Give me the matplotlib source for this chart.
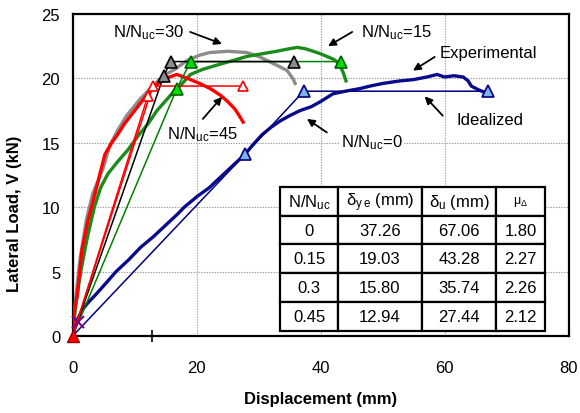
import matplotlib
matplotlib.use("Agg")
import matplotlib.pyplot as plt

plt.rcParams['font.family'] = ['Liberation Sans', 'DejaVu Sans']
plt.rcParams['mathtext.default'] = 'regular'

# ---- experimental curves (displacement mm, load kN) ----
exp0_x = [0, 0.4, 0.8, 1.5, 2.5, 3.5, 5, 7, 9, 11, 13, 15, 17, 18, 20, 22, 24, 26, 27.8, 29, 30.5, 32,
          33.5, 35, 36.7, 38.5, 40, 42, 44, 46.3, 48, 50, 52.8, 55, 57.1, 58.8, 60, 61.5, 63, 63.8, 64.3, 65.5, 67]
exp0_y = [0, 0.8, 1.3, 2.0, 2.6, 3.1, 3.9, 5.0, 5.9, 6.9, 7.7, 8.6, 9.5, 10, 10.8, 11.5, 12.4, 13.3, 14.1, 14.8,
          15.6, 16.2, 16.7, 17.1, 17.5, 17.8, 18.2, 18.8, 19.0, 19.2, 19.4, 19.6, 19.8, 19.9, 20.1, 20.3, 20.1,
          20.2, 20.1, 19.8, 19.4, 19.1, 18.8]

exp15_x = [0, 0.5, 1.3, 2.3, 3.5, 4.5, 5.7, 7.2, 9, 10.5, 12.2, 13.6, 16, 17.5, 19, 21, 23.8, 26, 28.1, 30.5,
           32.9, 35, 36.2, 37.5, 38.8, 40, 41, 42, 42.6, 43.3, 43.6, 44.1]
exp15_y = [0, 2.5, 5, 7.5, 10, 11.5, 12.6, 13.5, 14.5, 15.5, 16.5, 17.5, 18.8, 19.5, 20.3, 20.7, 21.1, 21.4,
           21.7, 21.9, 22.1, 22.3, 22.4, 22.3, 22.1, 21.9, 21.7, 21.5, 21.3, 20.8, 20.5, 19.8]

exp30_x = [0, 0.5, 1.2, 2.2, 3.2, 4.9, 6, 7.3, 8.7, 10.9, 12.5, 14.6, 16.5, 18.5, 20.5, 22.1, 25, 28.1, 30,
           31.3, 33, 34.6, 35.5, 35.9]
exp30_y = [0, 3, 6, 9, 11, 13, 14.8, 16, 17.1, 18.4, 19.2, 20.2, 20.7, 21.4, 21.8, 22.0, 22.1, 22.0, 21.7,
           21.4, 21.0, 20.6, 20.0, 19.6]

exp45_x = [0, 0.3, 0.7, 1.5, 2.5, 3.9, 4.4, 5.2, 6.3, 7.2, 8.4, 10.5, 12.1, 13.5, 15.0, 16.8, 18.5, 20.5,
           22.2, 23.8, 25, 26.2, 27.0, 27.5]
exp45_y = [0, 2, 3, 6.7, 9, 11.6, 12.6, 14.1, 15.0, 15.6, 16.5, 17.8, 18.8, 19.5, 20.0, 20.3, 20.0, 19.6,
           19.2, 18.7, 18.2, 17.6, 17.0, 16.6]

# ---- idealized bilinear curves ----
ide0_x = [0, 27.8, 37.26, 67.06]
ide0_y = [0, 14.1, 19.0, 19.0]
ide15_x = [0, 16.8, 19.03, 43.28]
ide15_y = [0, 19.2, 21.3, 21.3]
ide30_x = [0, 14.7, 15.80, 35.74]
ide30_y = [0, 20.2, 21.3, 21.3]
ide45_x = [0, 12.1, 12.94, 27.44]
ide45_y = [0, 18.6, 19.4, 19.4]

# ---- table ----
col_labels = ['N/N$_{uc}$', 'δ$_{y\\,e}$ (mm)', 'δ$_{u}$ (mm)', 'μ$_{Δ}$']
ratios = ['0', '0.15', '0.3', '0.45']
delta_ye = ['37.26', '19.03', '15.80', '12.94']
delta_u = ['67.06', '43.28', '35.74', '27.44']
mu = ['1.80', '2.27', '2.26', '2.12']

fig = plt.figure(figsize=(5.8, 4.14), dpi=100)
ax = fig.add_axes([0.1253, 0.186, 0.855, 0.778])

ax.set_xlim(0, 80)
ax.set_ylim(0, 25)
ax.set_xticks([0, 20, 40, 60, 80])
ax.set_yticks([0, 5, 10, 15, 20, 25])
ax.set_xticks([12.8, 40, 60, 80], minor=True)
ax.tick_params(axis='x', which='major', length=0, pad=17, labelsize=12)
ax.tick_params(axis='x', which='minor', length=9, width=1.2, direction='inout', color='black')
ax.tick_params(axis='y', which='major', length=0, pad=9, labelsize=12)
ax.grid(True, which='major', color='#9a9a9a', linestyle=(0, (1.2, 1.2)), linewidth=0.8)
ax.set_axisbelow(True)
for s in ax.spines.values():
    s.set_linewidth(1.6)
    s.set_color('black')

# experimental curves
lw_exp = 2.4
ax.plot(exp0_x, exp0_y, color='#0a0a8c', lw=lw_exp, zorder=3)
ax.plot(exp30_x, exp30_y, color='#8c8c8c', lw=lw_exp, zorder=3)
ax.plot(exp15_x, exp15_y, color='#1a8c1a', lw=lw_exp, zorder=3)
ax.plot(exp45_x, exp45_y, color='#ff0000', lw=lw_exp, zorder=3)

# idealized curves
ax.plot(ide0_x, ide0_y, color='#000080', lw=1.1, zorder=4)
ax.plot(ide15_x, ide15_y, color='#008000', lw=1.1, zorder=4)
ax.plot(ide30_x, ide30_y, color='black', lw=1.1, zorder=4)
ax.plot(ide45_x, ide45_y, color='#ff0000', lw=1.1, zorder=4)
ax.plot([ide45_x[0], ide45_x[2]], [ide45_y[0], ide45_y[2]], color='#ff0000', lw=1.1, zorder=4)

ax.plot(ide0_x[1:], ide0_y[1:], ls='none', marker='^', ms=9, mfc='#7fb2e5', mec='#000080', mew=1.2, zorder=5)
ax.plot(ide15_x[1:], ide15_y[1:], ls='none', marker='^', ms=9, mfc='#00e000', mec='#006000', mew=1.2, zorder=5)
ax.plot(ide30_x[1:], ide30_y[1:], ls='none', marker='^', ms=9, mfc='#8c8c8c', mec='black', mew=1.2, zorder=5)
ax.plot(ide45_x[1:], ide45_y[1:], ls='none', marker='^', ms=7, mfc='white', mec='#ff0000', mew=1.2, zorder=5)

# origin markers
ax.plot([0.8], [1.1], ls='none', marker='x', ms=8, mec='#800080', mew=1.5, zorder=5, clip_on=False)
ax.plot([0], [0], ls='none', marker='^', ms=9, mfc='#ff0000', mec='#a00000', mew=1, zorder=6, clip_on=False)

# annotations
fs = 12
arrow = dict(arrowstyle='-|>', color='black', lw=1.3, mutation_scale=11, shrinkA=0, shrinkB=0)
ax.text(12.3, 23.6, 'N/N$_{uc}$=30', fontsize=fs, ha='center', va='center', zorder=7)
ax.annotate('', xy=(24.1, 22.67), xytext=(18.95, 23.6), arrowprops=arrow, zorder=7)
ax.text(52.3, 23.6, 'N/N$_{uc}$=15', fontsize=fs, ha='center', va='center', zorder=7)
ax.annotate('', xy=(41.2, 22.5), xytext=(45.1, 23.6), arrowprops=arrow, zorder=7)
ax.text(67.0, 22.0, 'Experimental', fontsize=fs, ha='center', va='center', zorder=7)
ax.annotate('', xy=(54.9, 20.6), xytext=(58.4, 21.66), arrowprops=arrow, zorder=7)
ax.text(67.3, 16.8, 'Idealized', fontsize=fs, ha='center', va='center', zorder=7)
ax.annotate('', xy=(56.8, 18.6), xytext=(59.7, 17.1), arrowprops=arrow, zorder=7)
ax.text(48.3, 15.06, 'N/N$_{uc}$=0', fontsize=fs, ha='center', va='center', zorder=7,
        bbox=dict(facecolor='white', edgecolor='none', pad=1))
ax.annotate('', xy=(37.8, 16.85), xytext=(41.0, 15.8), arrowprops=arrow, zorder=7)
ax.text(21.0, 15.7, 'N/N$_{uc}$=45', fontsize=fs, ha='center', va='center', zorder=7)
ax.annotate('', xy=(24.1, 18.56), xytext=(21.0, 16.85), arrowprops=arrow, zorder=7)

# table
cells = [[r, a, b, m] for r, a, b, m in zip(ratios, delta_ye, delta_u, mu)]
tbl = ax.table(cellText=cells, colLabels=col_labels, colWidths=[58.3, 83.3, 75, 48.3],
               cellLoc='center', bbox=[0.418, 0.016, 0.534, 0.447], zorder=8)
tbl.auto_set_font_size(False)
tbl.set_fontsize(12)
for (r, c), cell in tbl.get_celld().items():
    cell.set_linewidth(1.6)
    cell.set_edgecolor('black')
    cell.set_facecolor('white')
tbl[(0, 3)].get_text().set_fontsize(9)

ax.set_xlabel('Displacement (mm)', fontsize=12, fontweight='bold')
ax.xaxis.set_label_coords(0.5, -0.172)
ax.set_ylabel('Lateral Load, V (kN)', fontsize=12, fontweight='bold')
ax.yaxis.set_label_coords(-0.102, 0.382)

fig.savefig('out.png', dpi=100)
